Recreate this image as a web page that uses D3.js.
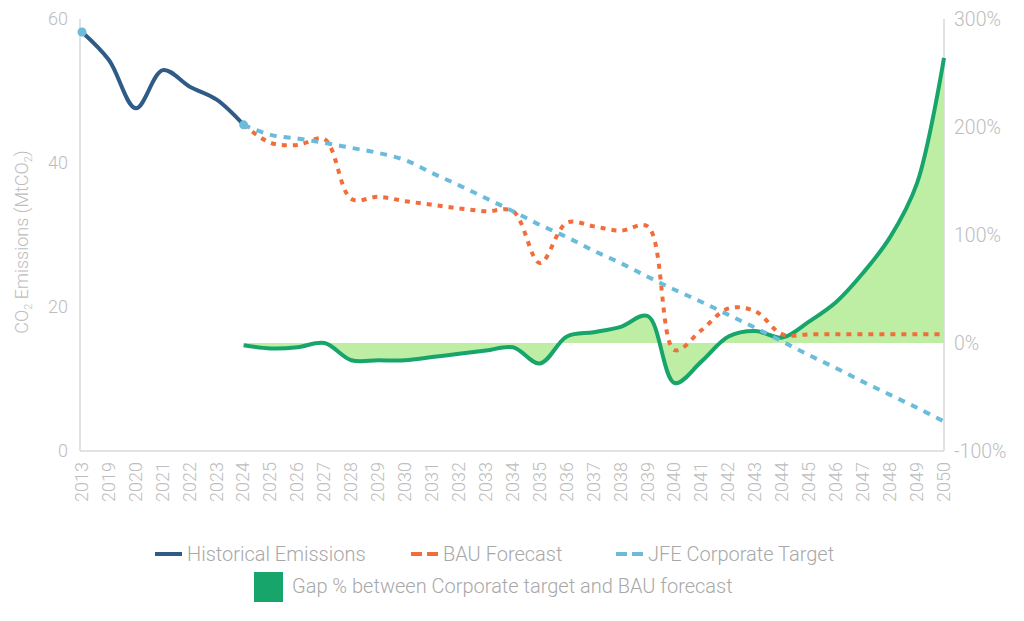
<!DOCTYPE html>
<html>
<head>
<meta charset="utf-8">
<script src="https://cdn.jsdelivr.net/npm/d3@7"></script>
<style>
  body { margin: 0; background: #fff; }
  text { font-family: Roboto, "Noto Sans", sans-serif; font-weight: 300; }
</style>
</head>
<body>
<svg id="chart" width="1024" height="621"></svg>
<script>
const years = ["2013", "2019", "2020", "2021", "2022", "2023", "2024", "2025", "2026", "2027",
  "2028", "2029", "2030", "2031", "2032", "2033", "2034", "2035", "2036", "2037", "2038",
  "2039", "2040", "2041", "2042", "2043", "2044", "2045", "2046", "2047", "2048", "2049", "2050"];

// MtCO2
const historical = [58.2, 54.3, 47.6, 52.9, 50.6, 48.8, 45.3];
const bau = [null, null, null, null, null, null, 45.3, 42.8, 42.5, 43.3, 35.0, 35.3, 34.7,
  34.2, 33.7, 33.3, 33.3, 26.1, 31.7, 31.2, 30.6, 31.2, 14.0, 16.8, 19.8, 19.4, 16.2,
  16.2, 16.2, 16.2, 16.2, 16.2, 16.2];
const target = [null, null, null, null, null, null, 45.3, 43.9, 43.4, 42.8, 42.1, 41.4, 40.4,
  38.6, 36.9, 35.1, 33.3, 31.4, 29.7, 27.8, 26.1, 24.2, 22.4, 20.7, 18.9, 17.1, 15.2,
  13.3, 11.5, 9.6, 7.8, 6.0, 4.1];
// gap %, right axis
const gap = [null, null, null, null, null, null, -2, -5, -4, 0, -16, -16, -16, -13, -10,
  -7, -4, -19, 6, 10, 15, 25, -37, -17, 6, 11, 5, 20, 38, 65, 98, 148, 264];

const leftTicks = [0, 20, 40, 60];
const rightTicks = [-100, 0, 100, 200, 300];

const c = {
  hist: "#2f5c86",
  bau: "#f26d3a",
  target: "#6bbcdb",
  gap: "#18a56b",
  fill: "#bdeea3",
  axis: "#d9d9d9",
  label: "#bdbdbd",
  legend: "#a8a8a8"
};

const svg = d3.select("#chart");
const plotL = 80, plotR = 944, plotT = 19, plotB = 451;

const x = d3.scalePoint().domain(years).range([82, 944]);
const y = d3.scaleLinear().domain([0, 60]).range([plotB, plotT]);
const y2 = d3.scaleLinear().domain([-100, 300]).range([plotB, plotT]);

// axes lines
svg.append("line").attr("x1", plotL).attr("x2", plotL).attr("y1", plotT).attr("y2", plotB)
  .attr("stroke", c.axis).attr("stroke-width", 1.5);
svg.append("line").attr("x1", plotR).attr("x2", plotR).attr("y1", plotT).attr("y2", plotB)
  .attr("stroke", c.axis).attr("stroke-width", 1.5);
svg.append("line").attr("x1", plotL).attr("x2", plotR).attr("y1", plotB).attr("y2", plotB)
  .attr("stroke", c.axis).attr("stroke-width", 1.5);

const leftAxis = svg.append("g").attr("transform", `translate(${plotL},0)`)
  .call(d3.axisLeft(y).tickValues(leftTicks).tickSize(0).tickPadding(12));
const rightAxis = svg.append("g").attr("transform", `translate(${plotR},0)`)
  .call(d3.axisRight(y2).tickValues(rightTicks).tickSize(0).tickPadding(10)
    .tickFormat(d => d + "%"));
const xAxis = svg.append("g").attr("transform", `translate(0,${plotB})`)
  .call(d3.axisBottom(x).tickSize(0).tickPadding(0));

[leftAxis, rightAxis, xAxis].forEach(a => {
  a.select(".domain").remove();
  a.selectAll("text").attr("fill", c.label).style("font-size", "18px");
});
rightAxis.selectAll("text").style("font-size", "19.5px");
xAxis.selectAll("text")
  .attr("text-anchor", "end")
  .attr("transform", "rotate(-90)")
  .attr("x", -11)
  .attr("y", -1)
  .attr("dy", "0.35em");

// y title
const title = svg.append("text")
  .attr("transform", "translate(28,242) rotate(-90)")
  .attr("text-anchor", "middle")
  .attr("fill", c.label)
  .style("font-size", "18px");
title.append("tspan").text("CO");
title.append("tspan").text("2").attr("dy", 4).style("font-size", "11px");
title.append("tspan").text(" Emissions (MtCO").attr("dy", -4);
title.append("tspan").text("2").attr("dy", 4).style("font-size", "11px");
title.append("tspan").text(")").attr("dy", -4);

const curve = d3.curveCatmullRom.alpha(0.5);

// gap area
const gapData = years.map((yr, i) => ({ yr, v: gap[i] }));
svg.append("path")
  .datum(gapData)
  .attr("fill", c.fill)
  .attr("d", d3.area()
    .defined(d => d.v !== null)
    .x(d => x(d.yr))
    .y0(y2(0))
    .y1(d => y2(d.v))
    .curve(curve));

svg.append("path")
  .datum(gapData)
  .attr("fill", "none")
  .attr("stroke", c.gap)
  .attr("stroke-width", 4)
  .attr("d", d3.line()
    .defined(d => d.v !== null)
    .x(d => x(d.yr))
    .y(d => y2(d.v))
    .curve(curve));

const line = d3.line()
  .defined(d => d.v !== null)
  .x(d => x(d.yr))
  .y(d => y(d.v))
  .curve(curve);

svg.append("path")
  .datum(years.map((yr, i) => ({ yr, v: bau[i] })))
  .attr("fill", "none")
  .attr("stroke", c.bau)
  .attr("stroke-width", 4)
  .attr("stroke-dasharray", "5 6")
  .attr("d", line);

svg.append("path")
  .datum(years.map((yr, i) => ({ yr, v: target[i] })))
  .attr("fill", "none")
  .attr("stroke", c.target)
  .attr("stroke-width", 4)
  .attr("stroke-dasharray", "7 7")
  .attr("d", line);

svg.append("path")
  .datum(historical.map((v, i) => ({ yr: years[i], v })))
  .attr("fill", "none")
  .attr("stroke", c.hist)
  .attr("stroke-width", 4)
  .attr("d", line);

// end markers
const ends = [{ yr: years[0], v: historical[0] }, { yr: years[historical.length - 1], v: historical[historical.length - 1] }];
svg.selectAll("circle.end").data(ends).enter().append("circle")
  .attr("class", "end")
  .attr("cx", d => x(d.yr))
  .attr("cy", d => y(d.v))
  .attr("r", 4.5)
  .attr("fill", c.target);

// legend
const legendLines = [
  { label: "Historical Emissions", color: c.hist, dash: null, x: 155 },
  { label: "BAU Forecast", color: c.bau, dash: "11 5", x: 411 },
  { label: "JFE Corporate Target", color: c.target, dash: "11 5", x: 616 }
];
const lg = svg.append("g");
const items = lg.selectAll("g.item").data(legendLines).enter().append("g")
  .attr("transform", d => `translate(${d.x},554)`);
items.append("line")
  .attr("x1", 0).attr("x2", 27).attr("y1", 0).attr("y2", 0)
  .attr("stroke", d => d.color)
  .attr("stroke-width", 4)
  .attr("stroke-dasharray", d => d.dash);
items.append("text")
  .attr("x", 32)
  .attr("dy", "0.35em")
  .attr("fill", c.legend)
  .style("font-size", "20px")
  .text(d => d.label);

lg.append("rect")
  .attr("x", 254).attr("y", 572).attr("width", 29).attr("height", 30)
  .attr("fill", c.gap);
lg.append("text")
  .attr("x", 292).attr("y", 586)
  .attr("dy", "0.35em")
  .attr("fill", c.legend)
  .style("font-size", "20px")
  .text("Gap % between Corporate target and BAU forecast");
</script>
</body>
</html>
